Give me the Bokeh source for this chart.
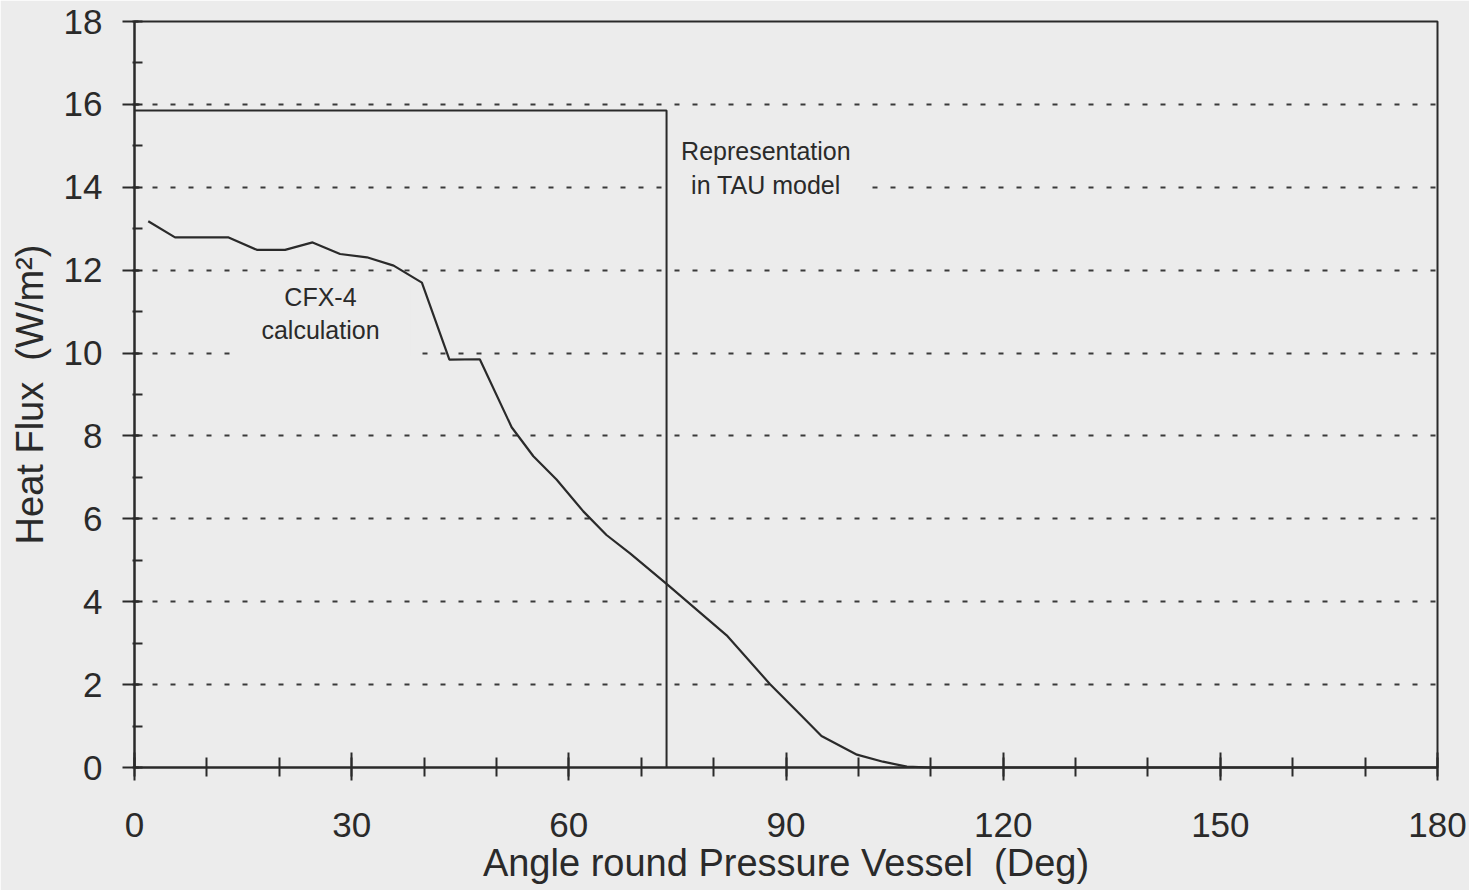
from bokeh.plotting import figure
from bokeh.models import Range1d, SingleIntervalTicker, Label
from bokeh.embed import file_html
from bokeh.resources import INLINE

# ---- data ----
cfx_x = [1.9, 5.6, 13.0, 16.9, 20.8, 24.6, 28.4, 32.1, 35.8, 39.7, 43.5, 47.7,
         52.1, 55.1, 58.3, 62.0, 65.2, 68.5, 73.5, 81.8, 87.8, 91.9, 94.9,
         99.8, 103.4, 106.7, 110.0, 180.0]
cfx_y = [13.18, 12.79, 12.79, 12.49, 12.49, 12.67, 12.39, 12.31, 12.11, 11.70,
         9.84, 9.85, 8.21, 7.51, 6.95, 6.18, 5.61, 5.16, 4.43, 3.19, 2.01,
         1.29, 0.76, 0.31, 0.14, 0.02, 0.0, 0.0]
tau_x = [0.0, 73.5, 73.5]
tau_y = [15.85, 15.85, 0.0]

x_title = "Angle round Pressure Vessel\u00a0 (Deg)"
y_title = "Heat Flux\u00a0 (W/m\u00b2)"
cfx_label = "CFX-4\ncalculation"
tau_label = "Representation\nin TAU model"

BG = "#ececec"
INK = "#2a2a2a"
FONT = "Liberation Sans"

p = figure(width=1469, height=890, output_backend="svg", toolbar_location=None,
           x_range=Range1d(0, 180), y_range=Range1d(0, 18),
           min_border_left=134, min_border_right=32, min_border_top=21,
           min_border_bottom=123)
p.background_fill_color = BG
p.border_fill_color = BG
p.outline_line_color = INK
p.outline_line_width = 2

p.xaxis.ticker = SingleIntervalTicker(interval=30, num_minor_ticks=3)
p.yaxis.ticker = SingleIntervalTicker(interval=2, num_minor_ticks=2)
p.xgrid.visible = False
p.ygrid.ticker = SingleIntervalTicker(interval=2)
p.ygrid.grid_line_color = "#3a3a3a"
p.ygrid.grid_line_width = 2
p.ygrid.grid_line_dash = "5 13"

for ax in (p.xaxis, p.yaxis):
    ax.axis_line_color = INK
    ax.axis_line_width = 2
    ax.major_tick_line_color = INK
    ax.major_tick_line_width = 2
    ax.minor_tick_line_color = INK
    ax.minor_tick_line_width = 2
    ax.major_label_text_font = FONT
    ax.major_label_text_color = INK
    ax.axis_label_text_font = FONT
    ax.axis_label_text_color = INK
    ax.axis_label_text_font_style = "normal"

p.xaxis.major_tick_in = 15
p.xaxis.major_tick_out = 13
p.xaxis.minor_tick_in = 10
p.xaxis.minor_tick_out = 9
p.xaxis.major_label_text_font_size = "35px"
p.xaxis.major_label_standoff = 32
p.xaxis.axis_label = x_title
p.xaxis.axis_label_text_font_size = "38px"
p.xaxis.axis_label_standoff = 2

p.yaxis.major_tick_in = 4
p.yaxis.major_tick_out = 12
p.yaxis.minor_tick_in = 8
p.yaxis.minor_tick_out = 2
p.yaxis.major_label_text_font_size = "35px"
p.yaxis.major_label_standoff = 20
p.yaxis.axis_label = y_title
p.yaxis.axis_label_text_font_size = "38px"
p.yaxis.axis_label_standoff = 10

p.line(tau_x, tau_y, line_color=INK, line_width=2, level="overlay")
p.line(cfx_x, cfx_y, line_color=INK, line_width=2.2, level="overlay")

labels = (
    (cfx_label, 25.9, 10.94, dict(left=28, right=31, top=11, bottom=12)),
    (tau_label, 87.5, 14.47, dict(left=12, right=16, top=12, bottom=12)),
)
for txt, lx, ly, pad in labels:
    p.add_layout(Label(x=lx, y=ly, text=txt, text_align="center",
                       text_baseline="middle", text_font=FONT,
                       text_font_size="25px", text_color=INK,
                       background_fill_color=BG, padding=pad))

open("out.html", "w").write(file_html(p, INLINE))
